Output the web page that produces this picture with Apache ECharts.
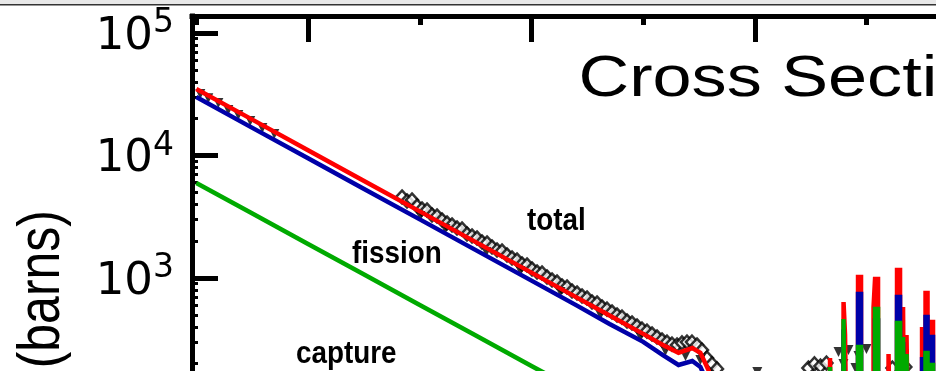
<!DOCTYPE html>
<html><head><meta charset="utf-8">
<script src="https://cdn.jsdelivr.net/npm/echarts@6/dist/echarts.min.js"></script>
<style>html,body{margin:0;padding:0;background:#fff;overflow:hidden}#c{width:936px;height:371px}</style>
</head><body><div id="c"></div>
<script>
// ---- data (energy in eV, cross section in barns) ----
const totalLine = [[1e-5,34900],[3e-5,20200],[1e-4,11050],[3e-4,6380],[1e-3,3500],[3e-3,2020],[1e-2,1107],[0.0253,695],[0.05,495],[0.1,350],[0.15,284],[0.207,245],[0.275,268],[0.325,245],[0.384,177],[0.45,111],[0.6,80],[1.0,65],[2.0,40],[3.0,30],
 [4.70,30],[4.70,222],[4.85,222],[4.85,40],
 [6.211,40],[6.211,637],[6.406,637],[6.406,343],[6.607,343],[6.607,40],
 [8.372,40],[8.372,1019],[8.906,1019],[8.906,40],
 [11.525,40],[11.525,580],[11.885,580],[11.885,981],[12.645,981],[12.645,40],
 [15.70,40],[15.70,240],[16.19,240],[16.19,40],
 [18.70,40],[18.70,1161],[19.90,1161],[19.90,40],[21.17,40],[21.17,580],[21.61,580],[21.61,40],[22.75,40],[22.75,343],[23.46,343],[23.46,40],
 [31.32,40],[31.32,398],[31.97,398],[31.97,40],[33.65,40],[33.65,755],[35.07,755],[35.07,40],[37.31,40],[37.31,437],[39.28,437],[39.28,40],[100,40]];
const fissionLine = [[1e-5,30000],[3e-5,17300],[1e-4,9500],[3e-4,5490],[1e-3,3010],[3e-3,1738],[1e-2,952],[0.0253,598],[0.05,421],[0.1,301],[0.15,235],[0.207,195],[0.275,210],[0.325,188],[0.384,134],[0.45,83],[0.6,50],[1.0,40],[2.0,25],[3.0,15],
 [4.70,15],[4.70,150],[4.85,150],[4.85,20],
 [6.211,20],[6.211,380],[6.406,380],[6.406,20],
 [8.372,20],[8.372,740],[8.906,740],[8.906,20],
 [11.885,20],[11.885,450],[12.645,450],[12.645,20],
 [18.70,20],[18.70,700],[19.90,700],[19.90,20],[21.17,20],[21.17,300],[21.61,300],[21.61,20],[22.75,20],[22.75,150],[23.46,150],[23.46,20],
 [31.32,20],[31.32,227],[31.97,227],[31.97,20],[33.65,20],[33.65,481],[35.07,481],[35.07,20],[37.31,20],[37.31,330],[39.28,330],[39.28,20],[100,20]];
const captureLine = [[1e-5,5970],[3e-5,3460],[1e-4,1897],[3e-4,1099],[1e-3,603],[3e-3,349],[1e-2,191],[0.0253,122],[0.1,62],[0.3,45],[1.0,20],[3.0,10],
 [4.70,10],[4.70,188],[4.85,188],[4.85,10],
 [6.211,10],[6.211,463],[6.406,463],[6.406,10],
 [8.372,10],[8.372,273],[8.906,273],[8.906,10],
 [11.885,10],[11.885,558],[12.645,558],[12.645,10],
 [18.70,10],[18.70,430],[19.90,430],[19.90,10],[21.17,10],[21.17,330],[21.61,330],[21.61,10],[22.75,10],[22.75,240],[23.46,240],[23.46,10],
 [33.65,10],[33.65,244],[35.07,244],[35.07,10],[37.31,10],[37.31,195],[39.28,195],[39.28,10],[100,10]];
const totalData = [[6.94e-4,4584],[7.69e-4,4253],[8.52e-4,4332],[9.45e-4,3871],[1.047e-3,3658],[1.161e-3,3590],[1.287e-3,3268],[1.427e-3,3207],[1.582e-3,2975],[1.754e-3,2812],
 [1.944e-3,2709],[2.155e-3,2560],[2.389e-3,2512],[2.648e-3,2287],[2.935e-3,2203],[3.254e-3,2121],[3.607e-3,1967],[3.999e-3,1931],[4.432e-3,1791],[4.913e-3,1693],
 [5.446e-3,1661],[6.039e-3,1541],[6.694e-3,1456],[7.42e-3,1403],[8.226e-3,1301],[9.12e-3,1277],[1.011e-2,1184],[1.121e-2,1119],[1.242e-2,1099],[1.377e-2,1019],
 [1.527e-2,963],[1.692e-2,927],[1.876e-2,860],[2.080e-2,844],[2.305e-2,783],[2.556e-2,754],[2.833e-2,713],[3.141e-2,687],[3.481e-2,637],[3.860e-2,625],
 [4.278e-2,580],[4.743e-2,558],[5.257e-2,528],[5.829e-2,499],[6.461e-2,480],[7.161e-2,446],[7.937e-2,429],[8.801e-2,406],[9.754e-2,383],[0.1081,369],
 [0.1199,349],[0.1329,330],[0.1473,312],[0.1633,300],[0.1810,289],[0.2007,284],[0.2224,295],[0.2466,300],[0.2733,300],[0.3030,284],
 [0.3358,258],[0.3724,222],[0.4127,199],[0.4575,181],
 [3.01,184],[3.41,199],[3.86,191],[4.37,202],[17.0,184],[22.2,188]];
const fissionData = [[1.086e-5,31800],[1.28e-5,29400],[1.575e-5,26800],[1.934e-5,23500],[2.377e-5,21400],[3.04e-5,19100],[3.90e-5,16800],[4.99e-5,15000],
 [1.011e-3,3206],[1.694e-3,2512],[3.94e-3,1629],[7.96e-3,1140],[1.815e-2,769],[4.14e-2,499],[9.44e-2,330],[0.158,254],[0.239,231],[0.325,214],
 [1.05,171],[5.60,249],[6.20,199],[6.87,258],[7.94,184],[8.45,231],[9.96,263]];
const xMajorTicks = [1e-4,1e-2,1,100,1e4,1e6];
const xMinorTicks = [1e-5,1e-3,0.1,10,1000,1e5,1e7];
const yMajorTicks = [1,10,100,1000,10000,100000];
const yMinorTicks = [];
[1,10,100,1000,10000,100000].forEach(d=>{for(let k=2;k<=9;k++) yMinorTicks.push(k*d);});
const titleText = 'Cross Sections';
const yName = '(barns)';
const labels = ['total','fission','capture'];

// ---- chart ----
const SANS = 'Liberation Sans, Arial, Helvetica, sans-serif';
const chart = echarts.init(document.getElementById('c'));
const X = {min:9.15e-6, max:1e7};
const Y = {min:1, max:137700};
const fmt = v => { const e = Math.log10(v), r = Math.round(e); return Math.abs(e-r) > 1e-6 ? '' : '{b|10}{s|' + r + '}'; };
const lineS = (name, data, color) => ({type:'line', name, data, showSymbol:false, silent:true, animation:false,
  lineStyle:{color, width:4.5, join:'miter', cap:'butt'}, itemStyle:{color}, emphasis:{disabled:true}});
chart.setOption({
  animation:false,
  backgroundColor:'#ffffff',
  grid:{left:192, top:16, width:1345, height:629.5, containLabel:false, outerBoundsMode:'none'},
  xAxis:[
    {type:'log', min:X.min, max:X.max, position:'top',
     axisLine:{show:true, lineStyle:{color:'#000', width:5, cap:'square'}},
     axisTick:{show:true, inside:true, length:26, lineStyle:{color:'#000', width:5}, customValues:xMajorTicks},
     axisLabel:{show:false}, splitLine:{show:false}},
    {type:'log', min:X.min, max:X.max, position:'top',
     axisLine:{show:false},
     axisTick:{show:true, inside:true, length:9, lineStyle:{color:'#000', width:5}, customValues:xMinorTicks},
     axisLabel:{show:false}, splitLine:{show:false}}
  ],
  yAxis:[
    {type:'log', min:Y.min, max:Y.max, position:'left',
     axisLine:{show:true, lineStyle:{color:'#000', width:5, cap:'square'}},
     axisTick:{show:true, inside:true, length:26, lineStyle:{color:'#000', width:5}, customValues:yMajorTicks},
     axisLabel:{show:true, customValues:yMajorTicks, formatter:fmt, margin:18, padding:[8,0,0,0],
       rich:{b:{fontFamily:'DejaVu Sans', fontSize:45, lineHeight:60, color:'#000'},
             s:{fontFamily:'DejaVu Sans', fontSize:33, lineHeight:30, verticalAlign:'top', color:'#000'}}},
     splitLine:{show:false}},
    {type:'log', min:Y.min, max:Y.max, position:'left',
     axisLine:{show:false},
     axisTick:{show:true, inside:true, length:6, lineStyle:{color:'#000', width:3}, customValues:yMinorTicks},
     axisLabel:{show:false}, splitLine:{show:false}}
  ],
  graphic:[
    {type:'rect', shape:{x:0,y:0,width:936,height:4}, style:{fill:'#e8e8e8'}, silent:true},
    {type:'rect', shape:{x:0,y:4,width:936,height:1.5}, style:{fill:'#333'}, silent:true},
    {type:'text', x:578.5, y:80, scaleX:1.21, silent:true,
     style:{text:titleText, x:0, y:0, fontFamily:SANS, fontSize:58, fill:'#000', align:'left', verticalAlign:'middle'}},
    {type:'text', x:42, y:210, rotation:Math.PI/2, scaleY:1.2, silent:true,
     style:{text:yName, x:0, y:0, fontFamily:SANS, fontSize:50, fill:'#000', align:'right', verticalAlign:'middle'}},
    {type:'text', x:527, y:221, scaleX:0.87, silent:true,
     style:{text:labels[0], x:0, y:0, fontFamily:SANS, fontSize:32, fontWeight:'bold', fill:'#000', align:'left', verticalAlign:'middle'}},
    {type:'text', x:352, y:254, scaleX:0.87, silent:true,
     style:{text:labels[1], x:0, y:0, fontFamily:SANS, fontSize:32, fontWeight:'bold', fill:'#000', align:'left', verticalAlign:'middle'}},
    {type:'text', x:296, y:354, scaleX:0.87, silent:true,
     style:{text:labels[2], x:0, y:0, fontFamily:SANS, fontSize:32, fontWeight:'bold', fill:'#000', align:'left', verticalAlign:'middle'}}
  ],
  series:[
    {type:'scatter', name:'total data', data:totalData, symbol:'diamond', symbolSize:[12,13], silent:true,
     itemStyle:{color:'#fff', borderColor:'#000', borderWidth:2.5}, emphasis:{disabled:true}},
    {type:'scatter', name:'fission data', data:fissionData, symbol:'triangle', symbolRotate:180, symbolSize:10, silent:true,
     itemStyle:{color:'#000'}, emphasis:{disabled:true}},
    lineS('total', totalLine, '#ff0000'),
    lineS('fission', fissionLine, '#0000a8'),
    lineS('capture', captureLine, '#00aa00')
  ]
});
</script></body></html>
